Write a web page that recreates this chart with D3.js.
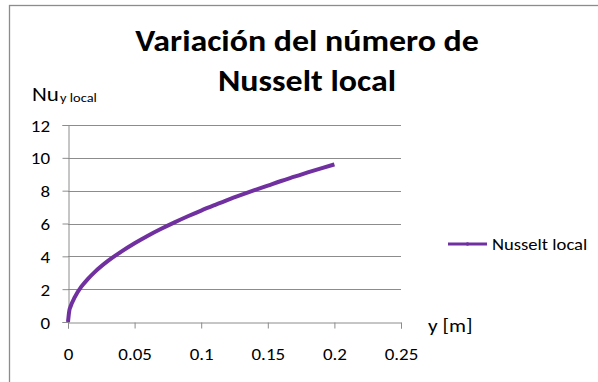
<!DOCTYPE html>
<html>
<head>
<meta charset="utf-8">
<script src="https://cdn.jsdelivr.net/npm/d3@7/dist/d3.min.js"></script>
<style>
  html, body { margin: 0; padding: 0; background: #fff; }
  svg { display: block; font-family: Carlito, Calibri, Lato, "Open Sans", sans-serif; }
</style>
</head>
<body>
<svg id="chart" width="598" height="382"></svg>
<script>
// Local Nusselt number along the plate, y in metres
const positions = [0, 0.001, 0.002, 0.005, 0.01, 0.015, 0.02, 0.03, 0.04, 0.05, 0.06, 0.07, 0.08, 0.09,
                   0.10, 0.11, 0.12, 0.13, 0.14, 0.15, 0.16, 0.17, 0.18, 0.19, 0.20];
const nusseltLocal = [0, 0.7, 0.96, 1.5, 2.15, 2.63, 3.04, 3.72, 4.29, 4.8, 5.26, 5.68, 6.07, 6.44,
                      6.79, 7.12, 7.44, 7.74, 8.03, 8.31, 8.59, 8.85, 9.11, 9.36, 9.6];
const xTicks = [0, 0.05, 0.1, 0.15, 0.2, 0.25];
const yTicks = [0, 2, 4, 6, 8, 10, 12];
const seriesName = "Nusselt local";
const titleLines = ["Variación del número de", "Nusselt local"];

const svg = d3.select("#chart");
const purple = "#7030a0";
const gridGrey = "#8c8c8c";
const stretch = 1.15; // the chart's text is set slightly wide

function label(parent, x, y, str, size, anchor = "start", weight = "normal") {
  return parent.append("text")
    .attr("transform", `translate(${x},${y}) scale(${stretch},1)`)
    .attr("text-anchor", anchor)
    .style("font-size", size + "px")
    .style("font-weight", weight)
    .attr("fill", "#000")
    .text(str);
}

// outer chart frame
svg.append("rect")
  .attr("x", 9.5).attr("y", 5.5)
  .attr("width", 700).attr("height", 500)
  .attr("fill", "none").attr("stroke", gridGrey).attr("stroke-width", 1.3);

const plot = { left: 68, right: 401, top: 125, bottom: 322 };
const x = d3.scaleLinear().domain([0, 0.25]).range([plot.left, plot.right]);
const y = d3.scaleLinear().domain([0, 12]).range([plot.bottom, plot.top]);

// horizontal gridlines
svg.append("g").selectAll("line")
  .data(yTicks.filter(d => d > 0))
  .join("line")
  .attr("x1", plot.left).attr("x2", plot.right)
  .attr("y1", d => Math.round(y(d)) + 0.5).attr("y2", d => Math.round(y(d)) + 0.5)
  .attr("stroke", gridGrey).attr("stroke-width", 1);

// y axis
const yAxis = svg.append("g")
  .attr("transform", `translate(${plot.left + 0.5},0)`)
  .call(d3.axisLeft(y).tickValues(yTicks).tickSize(6).tickFormat(d3.format("d")));
// x axis
const xAxis = svg.append("g")
  .attr("transform", `translate(0,${Math.round(y(0)) + 0.5})`)
  .call(d3.axisBottom(x).tickValues(xTicks).tickSize(6).tickFormat(d => String(d)));

[yAxis, xAxis].forEach(g => {
  g.select(".domain").attr("stroke", gridGrey).attr("stroke-width", 1);
  g.selectAll(".tick line").attr("stroke", gridGrey);
  g.selectAll(".tick text")
    .attr("fill", "#000")
    .attr("x", null).attr("y", null).attr("dy", null)
    .style("font-size", "16.5px")
    .style("font-family", "Carlito, Calibri, Lato, 'Open Sans', sans-serif");
});
yAxis.selectAll(".tick text")
  .attr("text-anchor", "end")
  .attr("transform", `translate(-18.5,6) scale(${stretch},1)`);
xAxis.selectAll(".tick text")
  .attr("text-anchor", "middle")
  .attr("transform", `translate(0,37.5) scale(${stretch},1)`);

// series line
svg.append("path")
  .datum(positions.map((p, i) => [p, nusseltLocal[i]]))
  .attr("fill", "none")
  .attr("stroke", purple)
  .attr("stroke-width", 4)
  .attr("stroke-linejoin", "round")
  .attr("d", d3.line().x(d => x(d[0])).y(d => y(d[1])).curve(d3.curveMonotoneX));

// title
titleLines.forEach((t, i) => label(svg, 307, 51 + i * 40, t, 29.5, "middle", "bold"));

// y axis title with subscript
const yt = label(svg, 32, 101, "Nu", 20);
yt.append("tspan").attr("dx", 1).attr("dy", 1).style("font-size", "12.5px").text("y local");

// x axis title
label(svg, 428, 332, "y [m]", 18.5);

// legend
const lg = svg.append("g").attr("transform", "translate(448,244)");
lg.append("line").attr("x1", 0).attr("x2", 39).attr("y1", 0).attr("y2", 0)
  .attr("stroke", purple).attr("stroke-width", 3);
lg.append("circle").attr("cx", 19.5).attr("cy", 0).attr("r", 1.8).attr("fill", purple);
label(lg, 44, 6, seriesName, 16.2);
</script>
</body>
</html>
